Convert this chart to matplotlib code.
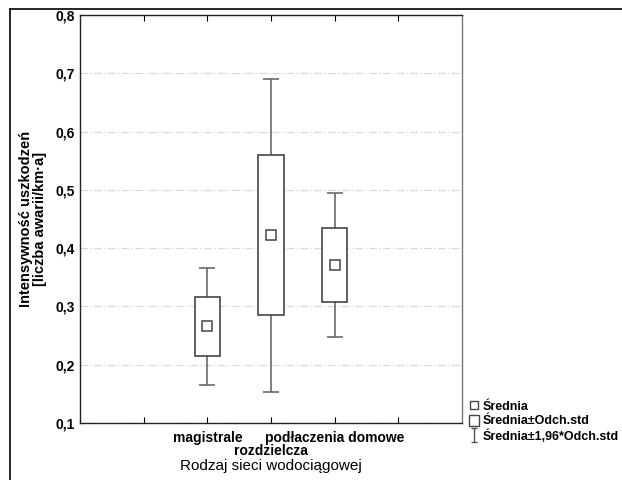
import numpy as np
import matplotlib
matplotlib.use("Agg")
import matplotlib.pyplot as plt
from matplotlib.lines import Line2D
from matplotlib.patches import Patch
from matplotlib.path import Path
from matplotlib.ticker import FuncFormatter

plt.rcParams['font.family'] = ['Liberation Sans', 'DejaVu Sans']

# dane
categories = ["magistrale", "rozdzielcza", "podłaczenia domowe"]
positions = [2, 3, 4]
means = [0.266, 0.422, 0.371]
sds = [0.051, 0.137, 0.063]
z = 1.96
yticks = [0.1, 0.2, 0.3, 0.4, 0.5, 0.6, 0.7, 0.8]

means = np.array(means)
sds = np.array(sds)

fig = plt.figure(figsize=(6.22, 4.80), dpi=100)
ax = fig.add_axes([80/622, 1-423/480, 382/622, 408/480])

edge = '#454545'
# wasy (srednia +- 1,96*odch.std)
ax.errorbar(positions, means, yerr=z*sds, fmt='none', ecolor='#6a6a6a',
            elinewidth=1.2, capsize=6, capthick=1.2, zorder=2)
# pudelka (srednia +- odch.std)
ax.bar(positions, 2*sds, bottom=means-sds, width=0.4, facecolor='white',
       edgecolor=edge, linewidth=1.2, zorder=3)
# srednia
ax.plot(positions, means, ls='none', marker='s', ms=6.5, mfc='white',
        mec=edge, mew=1.1, zorder=4)

ax.set_xlim(0, 6)
ax.set_ylim(0.1, 0.8)
ax.set_yticks(yticks)
ax.yaxis.set_major_formatter(FuncFormatter(lambda v, p: f"{v:.1f}".replace('.', ',')))
ax.set_xticks([1, 2, 3, 4, 5])
ax.set_xticklabels(["", categories[0], "", categories[2], ""])
# srodkowa etykieta przesunieta nizej (naprzemiennie)
ax.xaxis.remove_overlapping_locs = False
ax.set_xticks([positions[1]], minor=True)
ax.set_xticklabels([categories[1]], minor=True)
ax.tick_params(axis='x', which='major', direction='in', top=True, length=4,
               width=0.8, labelsize=10, pad=6)
ax.tick_params(axis='x', which='minor', length=0, labelsize=10, pad=15)
ax.tick_params(axis='y', direction='in', length=0, labelsize=10, pad=4)
for lab in (ax.get_xticklabels() + ax.get_xticklabels(minor=True)
            + ax.get_yticklabels()):
    lab.set_fontweight('bold')

ax.yaxis.grid(True, color='#d8d8d8', linestyle=(0, (6, 2, 1, 2)), linewidth=0.9)
ax.set_axisbelow(True)
for s in ['left', 'bottom', 'top']:
    ax.spines[s].set_color('#222222')
ax.spines['right'].set_color('#777777')
for s in ax.spines.values():
    s.set_linewidth(1.0)

ax.set_ylabel("Intensywność uszkodzeń\n[liczba awarii/km·a]", fontsize=10.5,
              fontweight='bold', labelpad=6, linespacing=1.0)
ax.set_xlabel("Rodzaj sieci wodociągowej", fontsize=11, labelpad=1)

# ramka obrazka
fig.add_artist(Line2D([10/622, 1], [1-9/480, 1-9/480], color='black', lw=1.2))
fig.add_artist(Line2D([10/622, 10/622], [0, 1-9/480], color='black', lw=1.2))

# legenda
whisk = Path([(-0.5, -1), (0.5, -1), (0, -1), (0, 1), (-0.5, 1), (0.5, 1)],
             [Path.MOVETO, Path.LINETO, Path.MOVETO, Path.LINETO, Path.MOVETO, Path.LINETO])
handles = [
    Line2D([], [], ls='none', marker='s', ms=6, mfc='white', mec=edge, mew=1.0),
    Patch(facecolor='white', edgecolor=edge, linewidth=1.0),
    Line2D([], [], ls='none', marker=whisk, ms=10, mfc='none', mec='#555555', mew=1.0),
]
labels = ["Średnia", "Średnia±Odch.std", "Średnia±1,96*Odch.std"]
leg = fig.legend(handles, labels, loc='upper left',
                 bbox_to_anchor=(463/622, 1-394/480), frameon=False,
                 handlelength=0.8, handleheight=1.0, handletextpad=0.3,
                 labelspacing=0.12, borderpad=0, prop={'size': 9, 'weight': 'bold'})

fig.savefig("out.png", dpi=100)
